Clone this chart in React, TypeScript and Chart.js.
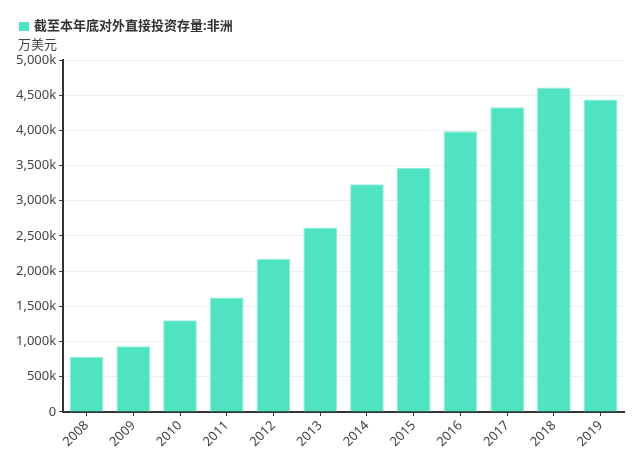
import React, { useEffect, useRef } from "react";
import { Chart, registerables } from "chart.js";

Chart.register(...registerables);

const categories = ["2008", "2009", "2010", "2011", "2012", "2013", "2014", "2015", "2016", "2017", "2018", "2019"];
const stockValues = [780400, 933200, 1304200, 1624400, 2172972, 2618577, 3233500, 3469400, 3987700, 4329700, 4610400, 4439000];
const seriesName = "截至本年底对外直接投资存量:非洲";
const unitLabel = "万美元";

const FONT = "'Noto Sans', 'Noto Sans CJK SC', sans-serif";

const headerPlugin = {
  id: "header",
  afterDraw(chart: any) {
    const ctx = chart.ctx;
    ctx.save();
    ctx.fillStyle = "#50e3c2";
    ctx.fillRect(19, 22, 10, 9);
    ctx.fillStyle = "#333333";
    ctx.font = `bold 13px ${FONT}`;
    ctx.textBaseline = "middle";
    ctx.textAlign = "left";
    ctx.fillText(seriesName, 34, 26.5);
    ctx.font = `13px ${FONT}`;
    ctx.fillStyle = "#444444";
    ctx.fillText(unitLabel, 18, 45.5);
    ctx.restore();
  },
};

export default function App() {
  const ref = useRef<HTMLCanvasElement | null>(null);
  useEffect(() => {
    if (!ref.current) return;
    const chart = new Chart(ref.current, {
      type: "bar",
      data: {
        labels: categories,
        datasets: [
          {
            label: seriesName,
            data: stockValues,
            backgroundColor: "#50e3c2",
            borderColor: "#8eeed8",
            borderWidth: 1,
          },
        ],
      },
      options: {
        animation: false,
        responsive: true,
        maintainAspectRatio: false,
        layout: { padding: { top: 60, left: 13, right: 16, bottom: 13 } },
        plugins: {
          legend: { display: false },
          tooltip: { enabled: false },
        },
        scales: {
          x: {
            grid: {
              display: true,
              drawOnChartArea: false,
              drawTicks: true,
              tickLength: 4,
              tickColor: "#333333",
              offset: false,
            },
            border: { display: true, color: "#333333", width: 2 },
            ticks: {
              color: "#444444",
              font: { family: FONT, size: 13 },
              maxRotation: 45,
              minRotation: 45,
              padding: 2,
              autoSkip: false,
            },
          },
          y: {
            min: 0,
            max: 5000000,
            grid: {
              color: "#eeeeee",
              lineWidth: 1,
              drawTicks: true,
              tickLength: 4,
              tickColor: "#333333",
            },
            border: { display: true, color: "#333333", width: 2 },
            ticks: {
              stepSize: 500000,
              color: "#444444",
              font: { family: FONT, size: 13 },
              padding: 3,
              callback: (v: any) => {
                const n = Number(v);
                if (n === 0) return "0";
                return (n / 1000).toLocaleString("en-US") + "k";
              },
            },
          },
        },
      },
      plugins: [headerPlugin],
    });
    return () => chart.destroy();
  }, []);
  return (
    <div style={{ position: "absolute", left: 0, top: 0, width: 640, height: 465 }}>
      <canvas ref={ref} />
    </div>
  );
}
